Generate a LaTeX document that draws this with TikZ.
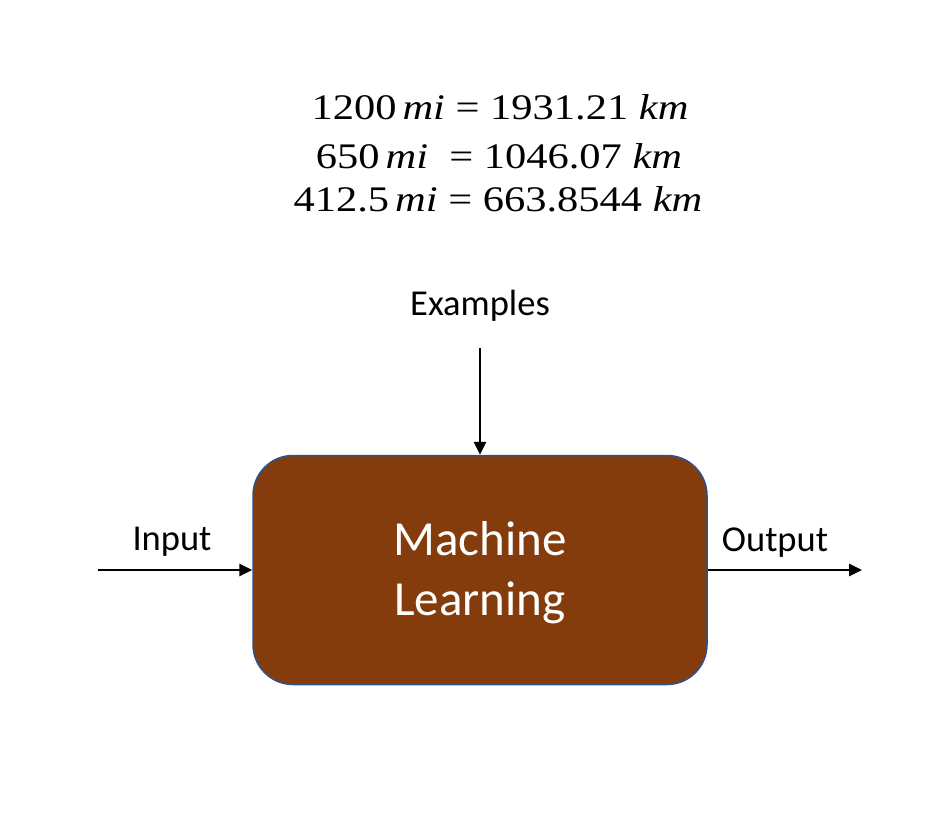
\documentclass[tikz,border=0pt]{standalone}
\usepackage{fontspec}
\setmainfont{Carlito}
\newfontfamily\eqfont[FakeStretch=1.18]{Liberation Serif}
\usetikzlibrary{arrows.meta}
\definecolor{mlbrown}{HTML}{843C0C}
\definecolor{mlblue}{HTML}{2F528F}
\begin{document}
\begin{tikzpicture}[x=1pt,y=-1pt,
  lbl/.style={font=\fontsize{36.5}{40}\selectfont, inner sep=0pt},
  eq/.style={font=\eqfont\fontsize{36}{40}\selectfont, inner sep=0pt},
  arr/.style={line width=2.8pt, -{Triangle[length=13pt,width=12pt]}}]
\useasboundingbox (0,0) rectangle (952,822);
\node[eq] (e1) at (500,107) {1200\,\textit{mi} = 1931.21 \textit{km}};
\node[eq] (e2) at (499,156) {650\,\textit{mi}\ \ = 1046.07 \textit{km}};
\node[eq] (e3) at (498,199) {412.5\,\textit{mi} = 663.8544 \textit{km}};
\node[lbl] (ex) at (480,306) {Examples};
\node[draw=mlblue, line width=1.5pt, fill=mlbrown, rounded corners=40pt,
  minimum width=454pt, minimum height=229pt, inner sep=0pt,
  text=white, align=center, font=\fontsize{49}{60}\selectfont] (ml) at (480,570) {};
\node[text=white, align=center, font=\fontsize{49}{60}\selectfont, inner sep=0pt] (mlt) at (480,573) {Machine\\Learning};
\coordinate (extop) at (480,348);
\coordinate (inl) at (98,570);
\coordinate (outr) at (862,570);
\node[lbl] (in) at (172,542) {Input};
\node[lbl] (out) at (775,543) {Output};
\draw[arr] (extop) -- (ml.north);
\draw[arr] (inl) -- (ml.west);
\draw[arr] (ml.east) -- (outr);
\end{tikzpicture}
\end{document}
